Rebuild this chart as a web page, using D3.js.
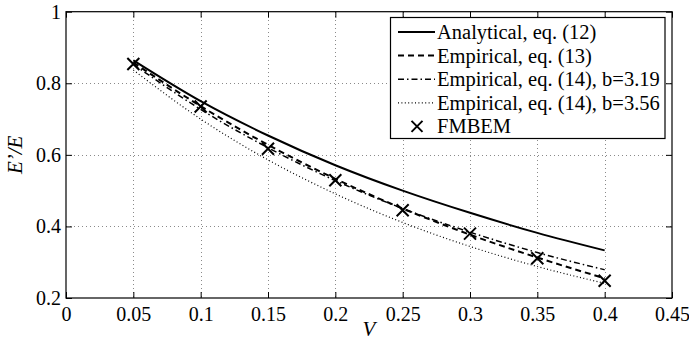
<!DOCTYPE html>
<html>
<head>
<meta charset="utf-8">
<script src="https://cdn.jsdelivr.net/npm/d3@7"></script>
<style>
  html, body { margin: 0; padding: 0; background: #fff; }
  svg { display: block; }
</style>
</head>
<body>
<svg id="chart" width="689" height="340"></svg>
<script>
// Volume fraction V at which each curve is evaluated
const volumeFraction = [0.05, 0.10, 0.15, 0.20, 0.25, 0.30, 0.35, 0.40];

// E'/E for each model
const analytical12 = [0.864, 0.750, 0.654, 0.571, 0.500, 0.438, 0.382, 0.333];
const empirical13  = [0.858, 0.736, 0.628, 0.533, 0.450, 0.377, 0.313, 0.255];
const empirical14a = [0.853, 0.727, 0.620, 0.528, 0.450, 0.384, 0.327, 0.279]; // b = 3.19
const empirical14b = [0.837, 0.700, 0.586, 0.491, 0.411, 0.344, 0.288, 0.241]; // b = 3.56
const fmbem        = [0.854, 0.735, 0.617, 0.529, 0.445, 0.380, 0.311, 0.248];

// Axis ticks
const xTicks = [0, 0.05, 0.1, 0.15, 0.2, 0.25, 0.3, 0.35, 0.4, 0.45];
const yTicks = [0.2, 0.4, 0.6, 0.8, 1];

const series = [
  { label: "Analytical, eq. (12)",           values: analytical12, dash: null,            width: 2 },
  { label: "Empirical, eq. (13)",            values: empirical13,  dash: "6,4",           width: 2 },
  { label: "Empirical, eq. (14), b=3.19",    values: empirical14a, dash: "6,3,1.5,3",     width: 1.5 },
  { label: "Empirical, eq. (14), b=3.56",    values: empirical14b, dash: "1,2.4",         width: 1.2 }
];

const SERIF = "Liberation Serif";
const svg = d3.select("#chart");
const plotL = 66, plotR = 672, plotT = 11.7, plotB = 298;

const x = d3.scaleLinear().domain([0, 0.45]).range([plotL, plotR]);
const y = d3.scaleLinear().domain([0.2, 1]).range([plotB, plotT]);

// Dotted grid
const grid = svg.append("g").attr("stroke", "#8a8a8a").attr("stroke-width", 1)
  .attr("stroke-dasharray", "1,3").attr("shape-rendering", "crispEdges");
grid.selectAll(".gx").data(xTicks.slice(1, -1)).join("line")
  .attr("x1", d => Math.round(x(d)) + 0.5).attr("x2", d => Math.round(x(d)) + 0.5)
  .attr("y1", plotT).attr("y2", plotB);
grid.selectAll(".gy").data(yTicks.slice(1, -1)).join("line")
  .attr("y1", d => Math.round(y(d)) + 0.5).attr("y2", d => Math.round(y(d)) + 0.5)
  .attr("x1", plotL).attr("x2", plotR);

// Axes with inward ticks on all four sides
const fmt = d => d3.format("~g")(d);
const axisStyle = g => {
  g.attr("font-family", SERIF).attr("font-size", 20);
  g.select(".domain").remove();
  g.selectAll(".tick line").attr("stroke", "#000");
  g.selectAll(".tick text").attr("fill", "#000").style("font-family", SERIF).style("font-size", "20px");
};
svg.append("g").attr("transform", `translate(0,${plotB})`)
  .call(d3.axisBottom(x).tickValues(xTicks).tickFormat(fmt).tickSizeInner(-6).tickSizeOuter(0).tickPadding(8.5))
  .call(axisStyle);
svg.append("g").attr("transform", `translate(0,${plotT})`)
  .call(d3.axisTop(x).tickValues(xTicks).tickFormat("").tickSizeInner(-6).tickSizeOuter(0))
  .call(axisStyle);
svg.append("g").attr("transform", `translate(${plotL},0)`)
  .call(d3.axisLeft(y).tickValues(yTicks).tickFormat(fmt).tickSizeInner(-6).tickSizeOuter(0).tickPadding(5))
  .call(axisStyle);
svg.append("g").attr("transform", `translate(${plotR},0)`)
  .call(d3.axisRight(y).tickValues(yTicks).tickFormat("").tickSizeInner(-6).tickSizeOuter(0))
  .call(axisStyle);

// Box
svg.append("rect").attr("x", plotL).attr("y", plotT).attr("width", plotR - plotL).attr("height", plotB - plotT)
  .attr("fill", "none").attr("stroke", "#000").attr("stroke-width", 1.2);

// Model curves
const line = d3.line().x((d, i) => x(volumeFraction[i])).y(d => y(d)).curve(d3.curveMonotoneX);
svg.append("g").selectAll("path").data(series).join("path")
  .attr("d", d => line(d.values))
  .attr("fill", "none").attr("stroke", "#000")
  .attr("stroke-width", d => d.width)
  .attr("stroke-dasharray", d => d.dash);

// FMBEM markers
const cross = (g, cx, cy, r) => {
  g.append("path")
    .attr("d", `M${cx - r},${cy - r}L${cx + r},${cy + r}M${cx - r},${cy + r}L${cx + r},${cy - r}`)
    .attr("stroke", "#000").attr("stroke-width", 2).attr("fill", "none");
};
const marks = svg.append("g");
fmbem.forEach((v, i) => cross(marks, x(volumeFraction[i]), y(v), 6));

// Axis titles
svg.append("text").attr("x", (plotL + plotR) / 2).attr("y", 336)
  .attr("text-anchor", "middle").style("font-family", SERIF).style("font-size", "21px")
  .style("font-style", "italic").text("V");
svg.append("text").attr("transform", `translate(22,${(plotT + plotB) / 2}) rotate(-90)`)
  .attr("text-anchor", "middle").style("font-family", SERIF).style("font-size", "21px")
  .style("font-style", "italic").text("E’/E");

// Legend
const lg = svg.append("g");
lg.append("rect").attr("x", 390.5).attr("y", 17.5).attr("width", 274.5).attr("height", 121)
  .attr("fill", "#fff").attr("stroke", "#000").attr("stroke-width", 1.2);
const rowY = i => 32 + i * 23.6;
series.forEach((s, i) => {
  lg.append("line").attr("x1", 398).attr("x2", 435).attr("y1", rowY(i)).attr("y2", rowY(i))
    .attr("stroke", "#000").attr("stroke-width", s.width).attr("stroke-dasharray", s.dash);
  lg.append("text").attr("x", 437).attr("y", rowY(i)).attr("dy", "0.34em")
    .style("font-family", SERIF).style("font-size", "20.5px").text(s.label);
});
cross(lg, 417, rowY(4), 5.5);
lg.append("text").attr("x", 437).attr("y", rowY(4)).attr("dy", "0.34em")
  .style("font-family", SERIF).style("font-size", "20.5px").text("FMBEM");
</script>
</body>
</html>
